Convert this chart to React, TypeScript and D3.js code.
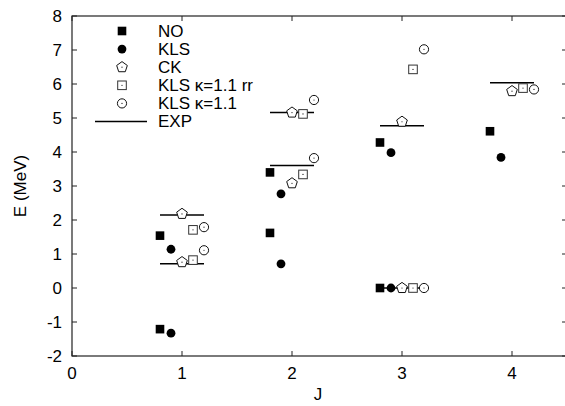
import * as d3 from "d3";

// J values for each level (two levels for J=1..3, one for J=4)
const levelJ = [1, 1, 2, 2, 3, 3, 4];
const noE = [1.54, -1.21, 3.4, 1.62, 4.28, 0, 4.61];
const klsE = [1.14, -1.33, 2.77, 0.71, 3.98, 0, 3.84];
const ckE = [2.18, 0.76, 5.16, 3.08, 4.89, 0, 5.79];
const klsRrE = [1.71, 0.82, 5.12, 3.34, 6.43, 0, 5.88];
const klsKappaE = [1.79, 1.11, 5.53, 3.82, 7.02, 0, 5.84];
const expE = [2.15, 0.71, 5.16, 3.6, 4.77, 0, 6.04];

const xTicks = [0, 1, 2, 3, 4];
const yTicks = [-2, -1, 0, 1, 2, 3, 4, 5, 6, 7, 8];

const legendLabels = ["NO", "KLS", "CK", "KLS \u03ba=1.1 rr", "KLS \u03ba=1.1", "EXP"];

type Kind = "sq" | "dot" | "pent" | "osq" | "ocirc";

const series: { kind: Kind; shift: number; values: number[] }[] = [
  { kind: "sq", shift: -0.2, values: noE },
  { kind: "dot", shift: -0.1, values: klsE },
  { kind: "pent", shift: 0, values: ckE },
  { kind: "osq", shift: 0.1, values: klsRrE },
  { kind: "ocirc", shift: 0.2, values: klsKappaE },
];

const W = 565;
const H = 406;
const m = { left: 72, top: 16, right: 567, bottom: 356 };
const font = "'Liberation Sans', Arial, sans-serif";
const fs = 17;

function pentagon(r: number) {
  const pts = d3.range(5).map((i) => {
    const a = -Math.PI / 2 + (i * 2 * Math.PI) / 5;
    return [r * Math.cos(a), r * Math.sin(a)];
  });
  return "M" + pts.map((p) => p.join(",")).join("L") + "Z";
}

function Marker({ kind, x, y }: { kind: Kind; x: number; y: number }) {
  const t = `translate(${x},${y})`;
  if (kind === "sq") return <rect x={x - 4.3} y={y - 4.3} width={8.6} height={8.6} fill="#000" />;
  if (kind === "dot") return <circle cx={x} cy={y} r={4.4} fill="#000" />;
  if (kind === "pent")
    return (
      <g transform={t}>
        <path d={pentagon(5.6)} fill="#fff" stroke="#111" strokeWidth={1} />
        <circle r={0.6} fill="#111" />
      </g>
    );
  if (kind === "osq")
    return (
      <g transform={t}>
        <rect x={-4.3} y={-4.3} width={8.6} height={8.6} fill="#fff" stroke="#333" strokeWidth={1} />
        <circle r={0.6} fill="#111" />
      </g>
    );
  return (
    <g transform={t}>
      <circle r={4.6} fill="#fff" stroke="#111" strokeWidth={1} />
      <circle r={0.6} fill="#111" />
    </g>
  );
}

export default function App() {
  const x = d3.scaleLinear().domain([0, 4.5]).range([m.left, m.right]);
  const y = d3.scaleLinear().domain([-2, 8]).range([m.bottom, m.top]);

  return (
    <svg
      width={W}
      height={H}
      style={{ position: "absolute", left: 0, top: 0, background: "#fff" }}
      fontFamily={font}
    >
      {/* frame */}
      <rect
        x={m.left}
        y={m.top}
        width={m.right - m.left}
        height={m.bottom - m.top}
        fill="none"
        stroke="#222"
        strokeWidth={1.2}
      />
      {yTicks.map((v) => (
        <g key={"y" + v}>
          <line x1={m.left} x2={m.left + 5} y1={y(v)} y2={y(v)} stroke="#222" />
          <line x1={m.right} x2={m.right - 5} y1={y(v)} y2={y(v)} stroke="#222" />
          <text x={62} y={y(v)} dy="0.35em" textAnchor="end" fontSize={fs}>
            {v}
          </text>
        </g>
      ))}
      {xTicks.map((v) => (
        <g key={"x" + v}>
          <line x1={x(v)} x2={x(v)} y1={m.bottom} y2={m.bottom - 5} stroke="#222" />
          <line x1={x(v)} x2={x(v)} y1={m.top} y2={m.top + 5} stroke="#222" />
          <text x={x(v)} y={373} dy="0.35em" textAnchor="middle" fontSize={fs}>
            {v}
          </text>
        </g>
      ))}
      <text x={318} y={400} textAnchor="middle" fontSize={fs}>
        J
      </text>
      <text
        transform={`translate(20,186) rotate(-90)`}
        dy="0.35em"
        textAnchor="middle"
        fontSize={fs}
      >
        E (MeV)
      </text>

      {/* experiment bars */}
      {expE.map((e, i) => (
        <line
          key={"e" + i}
          x1={x(levelJ[i] - 0.2)}
          x2={x(levelJ[i] + 0.2)}
          y1={y(e)}
          y2={y(e)}
          stroke="#000"
          strokeWidth={1.5}
        />
      ))}

      {/* model points */}
      {series.map((s) =>
        s.values.map((e, i) => (
          <Marker key={s.kind + i} kind={s.kind} x={x(levelJ[i] + s.shift)} y={y(e)} />
        ))
      )}

      {/* legend */}
      {legendLabels.map((lab, i) => {
        const ly = 31 + i * 18.1;
        return (
          <g key={lab}>
            {i < 5 ? (
              <Marker kind={series[i].kind} x={122} y={ly} />
            ) : (
              <line x1={95} x2={147} y1={ly} y2={ly} stroke="#000" strokeWidth={1.5} />
            )}
            <text x={158} y={ly} dy="0.35em" fontSize={fs}>
              {lab}
            </text>
          </g>
        );
      })}
    </svg>
  );
}
